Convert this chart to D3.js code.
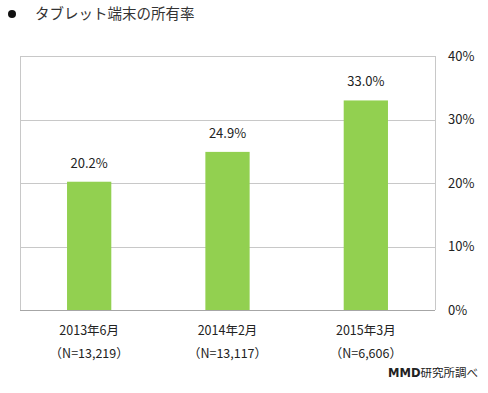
<!DOCTYPE html>
<html>
<head>
<meta charset="utf-8">
<script src="https://cdn.jsdelivr.net/npm/d3@7"></script>
<style>
  body { margin: 0; background: #fff; }
  svg text { font-family: "Noto Sans CJK JP", "Noto Sans", sans-serif; fill: #222; }
</style>
</head>
<body>
<div id="chart"></div>
<script>
// データ
var categories = ["2013年6月", "2014年2月", "2015年3月"];
var samples = ["（N=13,219）", "（N=13,117）", "（N=6,606）"];
var values = [20.2, 24.9, 33.0];
var ticks = [0, 10, 20, 30, 40];

var W = 488, H = 393;
var plotL = 20, plotR = 435, plotT = 56, plotB = 310;

var svg = d3.select("#chart").append("svg")
    .attr("width", W)
    .attr("height", H);

// タイトル
svg.append("circle").attr("cx", 12).attr("cy", 14).attr("r", 4).attr("fill", "#111");
svg.append("text")
    .attr("x", 35).attr("y", 19)
    .attr("font-size", 14.5)
    .style("fill", "#333")
    .text("タブレット端末の所有率");

var x = d3.scaleBand().domain(categories).range([plotL, plotR]).paddingInner(0.68).paddingOuter(0.34);
var y = d3.scaleLinear().domain([0, 40]).range([plotB, plotT]);

// グリッド線
svg.append("g").selectAll("line")
    .data(ticks)
    .enter().append("line")
    .attr("x1", plotL).attr("x2", plotR)
    .attr("y1", function(d) { return Math.round(y(d)) + 0.5; })
    .attr("y2", function(d) { return Math.round(y(d)) + 0.5; })
    .attr("stroke", function(d) { return d === 0 ? "#a6a6a6" : "#c8c8c8"; });

// 左右の枠
[plotL, plotR].forEach(function(px) {
    svg.append("line")
        .attr("x1", px + 0.5).attr("x2", px + 0.5)
        .attr("y1", plotT).attr("y2", plotB)
        .attr("stroke", "#c8c8c8");
});

// 右軸
var axis = d3.axisRight(y).tickValues(ticks).tickSize(0).tickPadding(13)
    .tickFormat(function(d) { return d + "%"; });
var ax = svg.append("g").attr("transform", "translate(" + plotR + ",0)").call(axis);
ax.select(".domain").remove();
ax.selectAll("text").attr("font-size", 13)
    .style("font-family", "\"Noto Sans CJK JP\", sans-serif").style("fill", "#222");

// 棒
svg.append("g").selectAll("rect")
    .data(values)
    .enter().append("rect")
    .attr("x", function(d, i) { return x(categories[i]); })
    .attr("y", function(d) { return y(d); })
    .attr("width", x.bandwidth())
    .attr("height", function(d) { return plotB - y(d); })
    .attr("fill", "#92d050");

// 値ラベル
svg.append("g").selectAll("text")
    .data(values)
    .enter().append("text")
    .attr("x", function(d, i) { return x(categories[i]) + x.bandwidth() / 2; })
    .attr("y", function(d) { return y(d) - 14; })
    .attr("text-anchor", "middle")
    .attr("font-size", 13)
    .text(function(d) { return d.toFixed(1) + "%"; });

// カテゴリラベル
svg.append("g").selectAll("text")
    .data(categories)
    .enter().append("text")
    .attr("x", function(d) { return x(d) + x.bandwidth() / 2; })
    .attr("y", 335)
    .attr("text-anchor", "middle")
    .attr("font-size", 12.5)
    .text(function(d) { return d; });

svg.append("g").selectAll("text")
    .data(samples)
    .enter().append("text")
    .attr("x", function(d, i) { return x(categories[i]) + x.bandwidth() / 2; })
    .attr("y", 358)
    .attr("text-anchor", "middle")
    .attr("font-size", 12.5)
    .text(function(d) { return d; });

// 出典
var src = svg.append("text")
    .attr("x", 478).attr("y", 377)
    .attr("text-anchor", "end")
    .attr("font-size", 11.5);
src.append("tspan").attr("font-weight", "bold").attr("font-family", "\"DejaVu Sans\", sans-serif").text("MMD");
src.append("tspan").text("研究所調べ");
</script>
</body>
</html>
